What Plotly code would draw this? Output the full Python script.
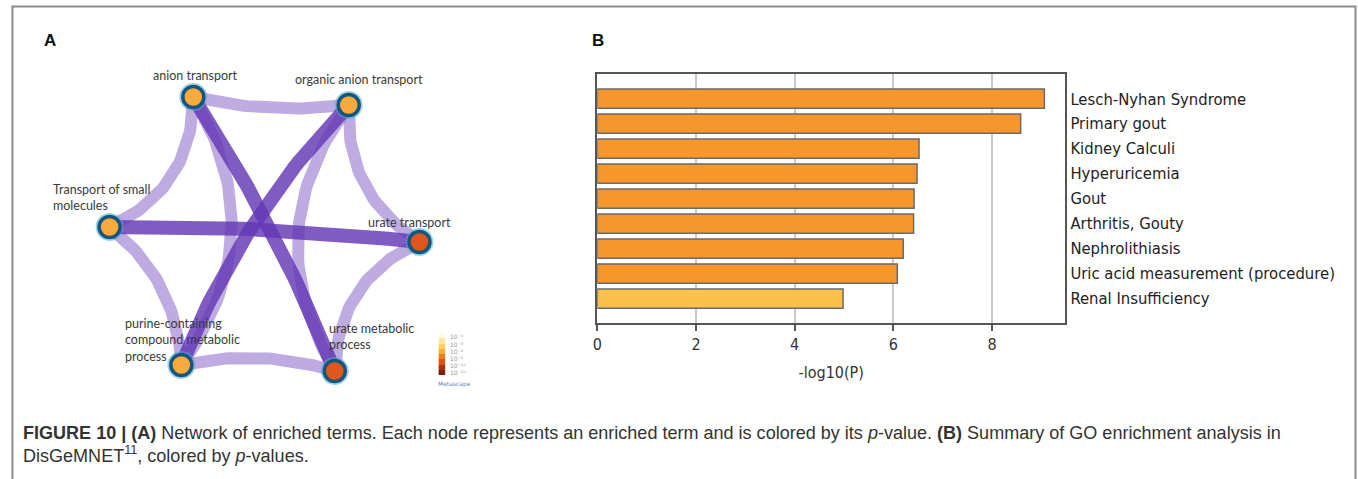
import numpy as np
import plotly.graph_objects as go

# ---------------- Panel B data ----------------
terms = ["Lesch-Nyhan Syndrome", "Primary gout", "Kidney Calculi", "Hyperuricemia", "Gout",
         "Arthritis, Gouty", "Nephrolithiasis", "Uric acid measurement (procedure)", "Renal Insufficiency"]
neglogp = [9.06, 8.58, 6.52, 6.48, 6.42, 6.41, 6.20, 6.08, 4.98]
bar_colors = ["#F7962B"] * 8 + ["#FDC04B"]
x_ticks = [0, 2, 4, 6, 8]

# ---------------- Panel A data (network) ----------------
node_names = ["anion transport", "organic anion transport", "Transport of small<br>molecules",
              "urate transport", "purine-containing<br>compound metabolic<br>process",
              "urate metabolic<br>process"]
node_x = [189, 345, 105, 416, 177, 331]
node_y = [97, 105, 227, 242, 365, 371]
node_colors = ["#F8AA3C", "#F8AA3C", "#F8AA3C", "#E0561C", "#F8AA3C", "#E0561C"]
# edges: source, target, curvature, strong
edge_src = [0, 0, 1, 2, 3, 4, 0, 1, 0, 1, 2]
edge_dst = [1, 2, 3, 4, 5, 5, 4, 5, 5, 4, 3]
edge_curv = [0.09, -0.32, 0.29, -0.23, 0.31, -0.13, -0.33, 0.33, -0.05, 0.10, -0.03]
edge_strong = [0, 0, 0, 0, 0, 0, 0, 0, 1, 1, 1]
legend_levels = [0, 1, 2, 3, 4, 5, 6, 7]
legend_colors = ["#FFFBE3", "#FDE8A2", "#FBD064", "#F9AA3C", "#F07E1F", "#D9540F", "#A8320B", "#7A1E08"]
legend_labels = ["10⁻²", "10⁻³", "10⁻⁴", "10⁻⁶", "10⁻¹⁰", "10⁻²⁰"]

W, H = 1358, 479
fig = go.Figure()

def bezier(p0, p1, k, n=50):
    p0 = np.array(p0, float); p1 = np.array(p1, float)
    d = p1 - p0
    L = np.hypot(*d)
    nrm = np.array([-d[1], d[0]]) / L
    c = (p0 + p1) / 2 + k * L * nrm
    t = np.linspace(0, 1, n)[:, None]
    pts = (1 - t) ** 2 * p0 + 2 * (1 - t) * t * c + t ** 2 * p1
    return pts[:, 0], pts[:, 1]

for strong in (0, 1):
    for s, d, k, st in zip(edge_src, edge_dst, edge_curv, edge_strong):
        if st != strong:
            continue
        bx, by = bezier((node_x[s], node_y[s]), (node_x[d], node_y[d]), k)
        fig.add_trace(go.Scatter(
            x=bx, y=by, mode="lines", xaxis="x2", yaxis="y2", hoverinfo="skip", showlegend=False,
            line=dict(color="rgba(100,55,180,0.82)" if st else "rgba(145,115,205,0.6)",
                      width=14 if st else 12)))

# nodes (halo + node)
fig.add_trace(go.Scatter(x=node_x, y=node_y, mode="markers", xaxis="x2", yaxis="y2", showlegend=False,
                         hoverinfo="skip",
                         marker=dict(size=28, color="rgba(80,175,215,0.55)", line=dict(width=0))))
fig.add_trace(go.Scatter(x=node_x, y=node_y, mode="markers", xaxis="x2", yaxis="y2", showlegend=False,
                         marker=dict(size=21, color=node_colors, line=dict(color="#17567A", width=3.5))))

# node labels
label_anchor = [("center", "bottom", 2, -12), ("center", "bottom", 10, -16), ("left", "middle", -59, -30),
                ("left", "middle", -53, -20), ("left", "middle", -58, -25), ("left", "middle", -8, -35)]
for name, x, y, (xa, ya, dx, dy) in zip(node_names, node_x, node_y, label_anchor):
    fig.add_annotation(x=x, y=y, xref="x2", yref="y2", text=name, showarrow=False,
                       xanchor=xa, yanchor=ya, xshift=dx, yshift=-dy,
                       align="left", font=dict(family="Lato", size=12.5, color="#3a3a3a"))

# tiny color legend in panel A
fig.add_trace(go.Heatmap(z=[[v] for v in legend_levels], x=[0], y=legend_levels, xaxis="x3", yaxis="y3",
                         colorscale=[[i / 7, c] for i, c in enumerate(legend_colors)],
                         showscale=False, hoverinfo="skip"))

# Panel B bars
fig.add_trace(go.Bar(x=neglogp, y=terms, orientation="h", width=0.77, xaxis="x", yaxis="y",
                     marker=dict(color=bar_colors, line=dict(color="#6a6a6a", width=1.5)),
                     showlegend=False))

bx0, bx1 = 594.5 / W, 1064 / W
by0, by1 = (H - 323) / H, (H - 74) / H
axis_line = dict(showline=True, mirror=True, linecolor="#555555", linewidth=2)
bfont = "DejaVu Sans Condensed, DejaVu Sans"

fig.update_layout(
    width=W, height=H, margin=dict(l=0, r=0, t=0, b=0),
    paper_bgcolor="white", plot_bgcolor="white", showlegend=False,
    xaxis=dict(domain=[bx0, bx1], anchor="y", range=[0, 9.48], tickvals=x_ticks,
               ticks="outside", ticklen=6, tickwidth=1.5, tickcolor="#555555",
               showgrid=True, gridcolor="#c9c9c9", gridwidth=1.5, zeroline=False,
               tickfont=dict(family=bfont, size=16, color="#333333"),
               title=dict(text="-log10(P)", standoff=14,
                          font=dict(family=bfont, size=16, color="#333333")),
               **axis_line),
    yaxis=dict(domain=[by0, by1], anchor="x", side="right", categoryorder="array",
               categoryarray=terms, range=[8.98, -0.99], ticks="", showgrid=False,
               ticklabelstandoff=0,
               tickfont=dict(family=bfont, size=16.5, color="#222222"),
               **axis_line),
    xaxis2=dict(domain=[0, 560 / W], anchor="y2", range=[0, 560], visible=False),
    yaxis2=dict(domain=[0, 1], anchor="x2", range=[H, 0], visible=False),
    xaxis3=dict(domain=[435 / W, 442 / W], anchor="y3", visible=False),
    yaxis3=dict(domain=[(H - 375) / H, (H - 333) / H], anchor="x3", range=[-0.5, 7.5],
                autorange="reversed", visible=False),
)

# tiny labels next to color legend
for i, lab in enumerate(legend_labels):
    fig.add_annotation(x=445 / W, y=(H - (337 + i * 7)) / H, xref="paper", yref="paper",
                       text=lab, showarrow=False, xanchor="left", yanchor="middle",
                       font=dict(family="DejaVu Sans", size=6, color="#999999"))
fig.add_annotation(x=433 / W, y=(H - 384) / H, xref="paper", yref="paper", text="Metascape",
                   showarrow=False, xanchor="left", yanchor="middle",
                   font=dict(family="DejaVu Sans", size=6, color="#6a7fc0"))

# panel letters
fig.add_annotation(x=45 / W, y=(H - 41) / H, xref="paper", yref="paper", text="<b>A</b>",
                   showarrow=False, xanchor="center", yanchor="middle",
                   font=dict(family="Liberation Sans", size=17, color="#111111"))
fig.add_annotation(x=595 / W, y=(H - 40) / H, xref="paper", yref="paper", text="<b>B</b>",
                   showarrow=False, xanchor="center", yanchor="middle",
                   font=dict(family="Liberation Sans", size=17, color="#111111"))

# caption
cap1 = ("<b>FIGURE 10 | (A)</b> Network of enriched terms. Each node represents an enriched term and is "
        "colored by its <i>p</i>-value. <b>(B)</b> Summary of GO enrichment analysis in")
cap2 = "DisGeMNET<sup>11</sup>, colored by <i>p</i>-values."
fig.add_annotation(x=16 / W, y=(H - 433) / H, xref="paper", yref="paper", text=cap1, showarrow=False,
                   xanchor="left", yanchor="middle",
                   font=dict(family="Liberation Sans", size=18.05, color="#333333"))
fig.add_annotation(x=16 / W, y=(H - 454) / H, xref="paper", yref="paper", text=cap2, showarrow=False,
                   xanchor="left", yanchor="middle",
                   font=dict(family="Liberation Sans", size=18.05, color="#333333"))

# outer frame (open at bottom)
fig.add_shape(type="path", xref="paper", yref="paper",
              path=f"M {7.5/W} -0.05 L {7.5/W} {1-6.5/H} L {1355.5/W} {1-6.5/H} L {1355.5/W} -0.05",
              line=dict(color="#8a8a8a", width=2))

fig.write_html("out.html", config={"displayModeBar": False},
               post_script="document.body.style.margin='0';document.body.style.overflow='hidden';")
